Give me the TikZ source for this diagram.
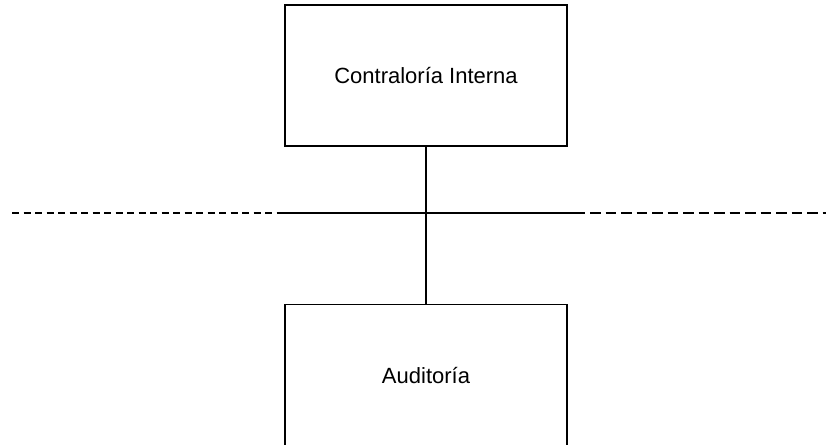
\documentclass[tikz,border=0pt]{standalone}
\usepackage{fontspec}
\setmainfont{Liberation Sans}
\begin{document}
\begin{tikzpicture}[x=1pt,y=-1pt,
  unit/.style={draw=black,line width=1.2pt,minimum width=282pt,minimum height=141pt,
    inner sep=0pt,font=\fontsize{22}{26}\selectfont},
  link/.style={draw=black,line width=1.2pt},
  leftdash/.style={draw=black,line width=1.2pt,dash pattern=on 7pt off 4.5pt},
  rightdash/.style={draw=black,line width=1.2pt,dash pattern=on 10.5pt off 5pt}]
\useasboundingbox (0,0) rectangle (826,444);
\clip (0,0) rectangle (826,444);
% organisational units
\node[unit] (ci) at (426,75.5) {Contraloría Interna};
\node[unit] (au) at (426,375.3) {Auditoría};
% staff boundary line
\coordinate (l0) at (12,213);
\coordinate (l1) at (277,213);
\coordinate (r0) at (585,213);
\coordinate (r1) at (590,213);
\coordinate (r2) at (826,213);
\path[leftdash] (l0) -- (l1);
\path[link] (l1) -- (r0);
\path[rightdash] (r1) -- (r2);
% reporting line
\path[link] (ci.south) -- (au.north);
\end{tikzpicture}
\end{document}
